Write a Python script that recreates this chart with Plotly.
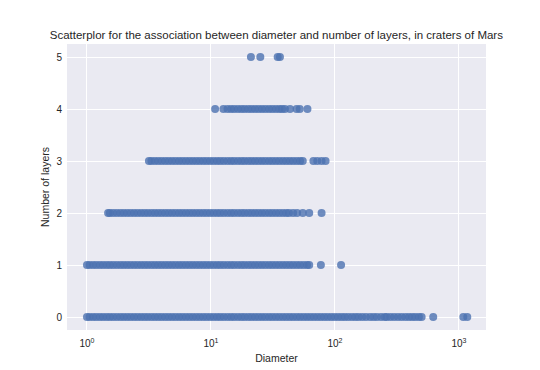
import plotly.graph_objects as go

title_text = "Scatterplor for the association between diameter and number of layers, in craters of Mars"

# Diameters (km) of craters, grouped by number of layers
diam_layer0 = [1.00, 1.05, 1.12, 1.19, 1.27, 1.35, 1.44, 1.53, 1.63, 1.74, 1.86, 1.98, 2.11, 2.25,
               2.40, 2.56, 2.73, 2.91, 3.10, 3.31, 3.53, 3.76, 4.01, 4.28, 4.56, 4.86, 5.18, 5.53,
               5.89, 6.28, 6.70, 7.14, 7.62, 8.12, 8.66, 9.23, 9.85, 10.5, 11.2, 11.9, 12.7, 13.6,
               14.5, 15.4, 16.5, 17.6, 18.7, 20.0, 21.3, 22.7, 24.2, 25.8, 27.5, 29.4, 31.3, 33.4,
               35.6, 38.0, 40.5, 43.2, 46.0, 49.1, 52.3, 55.8, 59.5, 63.4, 67.6, 72.1, 76.9, 82.0,
               87.4, 93.2, 99.4, 106, 113, 120, 128, 137, 146, 155, 166, 178, 192, 205, 218, 235,
               252, 262, 280, 300, 322, 345, 370, 395, 420, 445, 475, 500, 620, 1084, 1167]
diam_layer1 = [1.00, 1.05, 1.12, 1.19, 1.27, 1.35, 1.44, 1.53, 1.63, 1.74, 1.86, 1.98, 2.11, 2.25,
               2.40, 2.56, 2.73, 2.91, 3.10, 3.31, 3.53, 3.76, 4.01, 4.28, 4.56, 4.86, 5.18, 5.53,
               5.89, 6.28, 6.70, 7.14, 7.62, 8.12, 8.66, 9.23, 9.85, 10.5, 11.2, 11.9, 12.7, 13.6,
               14.5, 15.4, 16.5, 17.6, 18.7, 20.0, 21.3, 22.7, 24.2, 25.8, 27.5, 29.4, 31.3, 33.4,
               35.6, 38.0, 40.5, 43.2, 46.0, 49.1, 52.3, 55.8, 59.5, 62.0, 77, 112]
diam_layer2 = [1.48, 1.53, 1.63, 1.74, 1.86, 1.98, 2.11, 2.25, 2.40, 2.56, 2.73, 2.91, 3.10, 3.31,
               3.53, 3.76, 4.01, 4.28, 4.56, 4.86, 5.18, 5.53, 5.89, 6.28, 6.70, 7.14, 7.62, 8.12,
               8.66, 9.23, 9.85, 10.5, 11.2, 11.9, 12.7, 13.6, 14.5, 15.4, 16.5, 17.6, 18.7, 20.0,
               21.3, 22.7, 24.2, 25.8, 27.5, 29.4, 31.3, 33.4, 35.6, 38.0, 40.5, 42.6, 46.0, 49.5,
               55, 62, 78]
diam_layer3 = [3.16, 3.31, 3.53, 3.76, 4.01, 4.28, 4.56, 4.86, 5.18, 5.53, 5.89, 6.28, 6.70, 7.14,
               7.62, 8.12, 8.66, 9.23, 9.85, 10.5, 11.2, 11.9, 12.7, 13.6, 14.5, 15.4, 16.5, 17.6,
               18.7, 20.0, 21.3, 22.7, 24.2, 25.8, 27.5, 29.4, 31.3, 33.4, 35.6, 38.0, 40.5, 43.2,
               46.0, 49.1, 52.3, 55.0, 67, 72, 78, 84]
diam_layer4 = [10.8, 12.6, 13.6, 14.5, 15.4, 16.5, 17.6, 18.7, 20.0, 21.3, 22.7, 24.2, 25.8, 27.5,
               29.4, 31.3, 33.4, 35.6, 37.5, 39.5, 43.4, 49, 52, 60]
diam_layer5 = [21, 25, 34.5, 36]

layers = [0, 1, 2, 3, 4, 5]
diam_by_layer = [diam_layer0, diam_layer1, diam_layer2, diam_layer3, diam_layer4, diam_layer5]

x_tick_vals = [1, 10, 100, 1000]
x_tick_text = ["10<sup>0</sup>", "10<sup>1</sup>", "10<sup>2</sup>", "10<sup>3</sup>"]
y_tick_vals = [0, 1, 2, 3, 4, 5]

xs, ys = [], []
for lay, ds in zip(layers, diam_by_layer):
    xs.extend(ds)
    ys.extend([lay] * len(ds))

fig = go.Figure(go.Scatter(
    x=xs, y=ys, mode="markers",
    marker=dict(color="#4c72b0", size=8, opacity=0.8, line=dict(width=0)),
    showlegend=False,
))

font_col = "#262626"
fig.update_layout(
    width=540, height=370,
    margin=dict(l=59, r=62, t=36, b=48, autoexpand=False),
    paper_bgcolor="white",
    plot_bgcolor="#EAEAF2",
    font=dict(family="Liberation Sans, Arial, sans-serif", color=font_col, size=10),
    title=dict(text=title_text, x=0.497, xanchor="center", y=1 - 27 / 370,
               yref="container", yanchor="middle", font=dict(size=11.5, color=font_col)),
    xaxis=dict(type="log", range=[-0.161, 3.218], tickvals=x_tick_vals, ticktext=x_tick_text,
               showgrid=True, gridcolor="white", gridwidth=1, zeroline=False,
               ticks="outside", ticklen=4, tickcolor="rgba(0,0,0,0)",
               title=dict(text="Diameter", font=dict(size=10.5), standoff=6),
               tickfont=dict(size=10, color=font_col)),
    yaxis=dict(range=[-0.25, 5.25], tickvals=y_tick_vals,
               showgrid=True, gridcolor="white", gridwidth=1, zeroline=False,
               ticks="outside", ticklen=2, tickcolor="rgba(0,0,0,0)",
               title=dict(text="Number of layers", font=dict(size=10.5), standoff=4),
               tickfont=dict(size=10, color=font_col)),
)

fig.write_html("out.html")
